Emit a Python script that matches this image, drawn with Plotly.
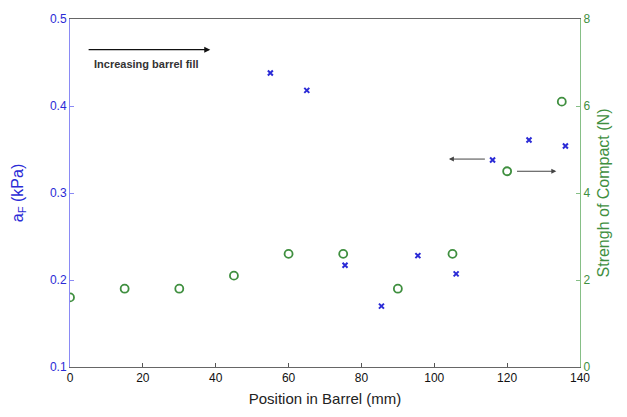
import plotly.graph_objects as go

# Barrel position (mm) and measured quantities
pos_af = [55, 65, 75.5, 85.5, 95.5, 106, 116, 126, 136]
af_kpa = [0.438, 0.418, 0.217, 0.170, 0.228, 0.207, 0.338, 0.361, 0.354]

pos_strength = [0, 15, 30, 45, 60, 75, 90, 105, 120, 135]
strength_n = [1.6, 1.8, 1.8, 2.1, 2.6, 2.6, 1.8, 2.6, 4.5, 6.1]

x_ticks = [0, 20, 40, 60, 80, 100, 120, 140]
left_ticks = [0.1, 0.2, 0.3, 0.4, 0.5]
right_ticks = [0, 2, 4, 6, 8]

BLUE = "#2b2bd6"
BLUE_AXIS = "#8a8af5"
GREEN = "#3f8f3f"
GREEN_AXIS = "#86bf86"
FONT = "Liberation Sans, Arial, sans-serif"

fig = go.Figure()

fig.add_trace(go.Scatter(
    x=pos_af, y=af_kpa, mode="markers", yaxis="y",
    marker=dict(symbol="x-thin-open", size=5, color=BLUE,
                line=dict(color=BLUE, width=2)),
    showlegend=False,
))

fig.add_trace(go.Scatter(
    x=pos_strength, y=strength_n, mode="markers", yaxis="y2",
    marker=dict(symbol="circle-open", size=8, color=GREEN,
                line=dict(color=GREEN, width=1.8)),
    showlegend=False,
))

# Direction-of-fill arrow and caption
fig.add_annotation(x=38.5, y=0.4647, ax=4.7, ay=0.4647, xref="x", yref="y",
                   axref="x", ayref="y", text="", showarrow=True,
                   arrowhead=2, arrowsize=1, arrowwidth=1.2, arrowcolor="#111")
fig.add_annotation(x=6.0, y=0.448, xref="x", yref="y",
                   text="<b>Increasing barrel fill</b>",
                   showarrow=False, xanchor="left", yanchor="middle",
                   font=dict(family=FONT, size=11, color="#333"))

# Arrows pointing each series to its axis
fig.add_annotation(x=104.0, y=0.339, ax=114.3, ay=0.339, xref="x", yref="y",
                   axref="x", ayref="y", text="", showarrow=True,
                   arrowhead=2, arrowsize=1, arrowwidth=1, arrowcolor="#444")
fig.add_annotation(x=133.5, y=4.5, ax=122.3, ay=4.5, xref="x", yref="y2",
                   axref="x", ayref="y2", text="", showarrow=True,
                   arrowhead=2, arrowsize=1, arrowwidth=1, arrowcolor="#444")

fig.update_layout(
    width=627, height=417,
    margin=dict(l=70, r=47, t=15, b=49),
    paper_bgcolor="white", plot_bgcolor="white",
    font=dict(family=FONT, size=12),
    xaxis=dict(
        range=[0, 140], tickvals=x_ticks, ticks="inside", ticklen=4,
        tickcolor="#555", showline=True, linecolor="#666", linewidth=1,
        mirror=True, showgrid=False, zeroline=False,
        tickfont=dict(family=FONT, size=12, color="#111"),
        title=dict(text="Position in Barrel (mm)",
                   font=dict(family=FONT, size=15, color="#222"), standoff=9),
    ),
    yaxis=dict(
        range=[0.1, 0.5], tickvals=left_ticks, ticktext=[f"{v:.1f}" for v in left_ticks],
        ticks="inside", ticklen=4, tickcolor=BLUE_AXIS,
        showline=True, linecolor=BLUE_AXIS, linewidth=1,
        showgrid=False, zeroline=False,
        tickfont=dict(family=FONT, size=12, color=BLUE),
        title=dict(text="a<sub>F</sub> (kPa)",
                   font=dict(family=FONT, size=16, color=BLUE), standoff=22),
    ),
    yaxis2=dict(
        range=[0, 8], tickvals=right_ticks, overlaying="y", side="right",
        ticks="inside", ticklen=4, tickcolor=GREEN_AXIS,
        showline=True, linecolor=GREEN_AXIS, linewidth=1,
        showgrid=False, zeroline=False,
        tickfont=dict(family=FONT, size=12, color=GREEN),
        title=dict(text="Strengh of Compact (N)",
                   font=dict(family=FONT, size=16, color=GREEN), standoff=8),
    ),
)

fig.write_html("out.html")
